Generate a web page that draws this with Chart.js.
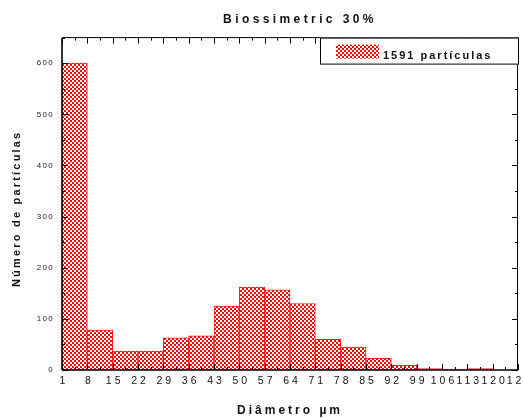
<!DOCTYPE html>
<html>
<head>
<meta charset="utf-8">
<script src="https://cdn.jsdelivr.net/npm/chart.js@4.4.1/dist/chart.umd.min.js"></script>
<style>
  html, body { margin: 0; padding: 0; background: #fff; }
  #wrap { width: 523px; height: 419px; }
</style>
</head>
<body>
<div id="wrap"><canvas id="myChart" width="523" height="419"></canvas></div>
<script>
// bins start at these diameters (µm), each 7 wide
const binStarts = [1, 8, 15, 22, 29, 36, 43, 50, 57, 64, 71, 78, 85, 92, 99, 106, 113, 120];
const counts = [600, 78, 37, 37, 63, 67, 125, 162, 157, 130, 60, 45, 23, 9, 3, 2, 3, 0];
const binWidth = 7;
const xTicks = [1, 8, 15, 22, 29, 36, 43, 50, 57, 64, 71, 78, 85, 92, 99, 106, 113, 120, 127];
const yTicks = [0, 100, 200, 300, 400, 500, 600];
const yMinorTicks = [50, 150, 250, 350, 450, 550, 650];
const seriesLabel = '1591 partículas';
const chartTitle = 'Biossimetric 30%';
const xTitle = 'Diâmetro µm';
const yTitle = 'Número de partículas';

const FONT = 'Arial, "Liberation Sans", sans-serif';

// red / white checker fill like the original hatch
function makePattern() {
  const c = document.createElement('canvas');
  c.width = 4; c.height = 4;
  const g = c.getContext('2d');
  g.fillStyle = '#ff0000';
  g.fillRect(0, 0, 4, 4);
  g.fillStyle = '#ffffff';
  g.fillRect(0, 0, 2, 2);
  g.fillRect(2, 2, 2, 2);
  return g.createPattern(c, 'repeat');
}
const hatch = makePattern();

// letter spacing per text element (canvas letterSpacing), with a small nudge
const spacingPlugin = {
  id: 'spacing',
  afterLayout(chart) {
    const ctx = chart.ctx;
    const wrap = (obj, name, sp, dx, dy) => {
      if (!obj || obj['_sp_' + name]) return;
      const orig = obj[name].bind(obj);
      obj[name] = function (...args) {
        ctx.save();
        ctx.letterSpacing = sp;
        ctx.translate(dx, dy);
        orig(...args);
        ctx.restore();
      };
      obj['_sp_' + name] = true;
    };
    wrap(chart.scales.x, 'drawLabels', '3px', 2, 0);
    wrap(chart.scales.y, 'drawLabels', '1.3px', 0, 0);
    wrap(chart.scales.x, 'drawTitle', '3px', 0, 1);
    wrap(chart.scales.y, 'drawTitle', '2.2px', 0, 5);
    wrap(chart.titleBlock, 'draw', '3.4px', 10, 0);
  }
};

// box round the plot with inward ticks on all four sides
const framePlugin = {
  id: 'frame',
  afterDatasetsDraw(chart) {
    const { ctx, chartArea: a, scales: { x, y } } = chart;
    ctx.save();
    ctx.strokeStyle = '#000';
    ctx.lineWidth = 1;
    const line = (x1, y1, x2, y2) => {
      ctx.beginPath(); ctx.moveTo(x1, y1); ctx.lineTo(x2, y2); ctx.stroke();
    };
    xTicks.forEach((v, i) => {
      const px = Math.round(x.getPixelForValue(v)) + 0.5;
      line(px, a.bottom, px, a.bottom - 6);
      line(px, a.top, px, a.top + 6);
      if (i < xTicks.length - 1) {
        const m = Math.round(x.getPixelForValue((v + xTicks[i + 1]) / 2)) + 0.5;
        line(m, a.bottom, m, a.bottom - 3);
        line(m, a.top, m, a.top + 3);
      }
    });
    yTicks.forEach(v => {
      const py = Math.round(y.getPixelForValue(v)) + 0.5;
      line(a.left, py, a.left + 6, py);
      line(a.right, py, a.right - 6, py);
    });
    yMinorTicks.forEach(v => {
      const py = Math.round(y.getPixelForValue(v)) + 0.5;
      line(a.left, py, a.left + 3, py);
      line(a.right, py, a.right - 3, py);
    });
    ctx.lineWidth = 1;
    line(a.left + 0.5, a.top, a.right, a.top);
    line(a.right - 0.5, a.top, a.right - 0.5, a.bottom);
    ctx.lineWidth = 1.6;
    line(a.left, a.bottom, a.right, a.bottom);
    line(a.left, a.top, a.left, a.bottom);
    ctx.restore();
  }
};

// boxed legend in the top right corner of the plot
const legendBox = {
  id: 'legendBox',
  afterDraw(chart) {
    const { ctx, chartArea: a } = chart;
    const ds = chart.data.datasets[0];
    const w = 199, h = 27;
    const left = a.right + 1 - w, top = a.top;
    ctx.save();
    ctx.fillStyle = '#fff';
    ctx.fillRect(left, top, w, h);
    ctx.strokeStyle = '#000';
    ctx.lineWidth = 1;
    ctx.strokeRect(left + 0.5, top + 0.5, w - 1, h - 1);
    ctx.fillStyle = ds.backgroundColor;
    ctx.fillRect(left + 16, top + 7, 43, 14);
    ctx.font = 'bold 11px ' + FONT;
    ctx.letterSpacing = '2px';
    ctx.fillStyle = '#111';
    ctx.textBaseline = 'alphabetic';
    ctx.fillText(ds.label, left + 63, top + 21);
    ctx.restore();
  }
};

const ctx = document.getElementById('myChart').getContext('2d');
const myChart = new Chart(ctx, {
  type: 'bar',
  data: {
    datasets: [{
      label: seriesLabel,
      data: binStarts.map((s, i) => ({ x: s + binWidth / 2, y: counts[i] })),
      backgroundColor: hatch,
      borderColor: '#ff1a1a',
      borderWidth: 1,
      borderSkipped: false,
      barPercentage: 1,
      categoryPercentage: 1
    }]
  },
  options: {
    responsive: false,
    animation: false,
    layout: { padding: { top: 0, right: 5, bottom: 0, left: 0 } },
    scales: {
      x: {
        type: 'linear',
        offset: false,
        min: 1,
        max: 127,
        grid: { display: false, drawTicks: false },
        border: { display: false },
        afterBuildTicks: s => { s.ticks = xTicks.map(v => ({ value: v })); },
        afterFit: s => { s.height = 49; s.paddingLeft = 0; s.paddingRight = 0; },
        ticks: {
          autoSkip: false,
          maxRotation: 0,
          padding: 5,
          color: '#111',
          font: { family: FONT, size: 10.5 }
        },
        title: {
          display: true,
          text: xTitle,
          color: '#111',
          padding: { top: 0, bottom: 2 },
          font: { family: FONT, size: 12, weight: 'bold' }
        }
      },
      y: {
        min: 0,
        max: 650,
        grid: { display: false, drawTicks: false },
        border: { display: false },
        afterBuildTicks: s => { s.ticks = yTicks.map(v => ({ value: v })); },
        afterFit: s => { s.width = 62; s.paddingTop = 0; s.paddingBottom = 0; },
        ticks: {
          padding: 8,
          color: '#222',
          font: { family: FONT, size: 8 }
        },
        title: {
          display: true,
          text: yTitle,
          color: '#111',
          padding: { top: 10, bottom: 0 },
          font: { family: FONT, size: 11, weight: 'bold' }
        }
      }
    },
    plugins: {
      legend: { display: false },
      tooltip: { enabled: false },
      title: {
        display: true,
        text: chartTitle,
        fullSize: false,
        color: '#111',
        padding: { top: 12, bottom: 10 },
        font: { family: FONT, size: 12, weight: 'bold', lineHeight: 1.3 }
      }
    }
  },
  plugins: [spacingPlugin, framePlugin, legendBox]
});
</script>
</body>
</html>
